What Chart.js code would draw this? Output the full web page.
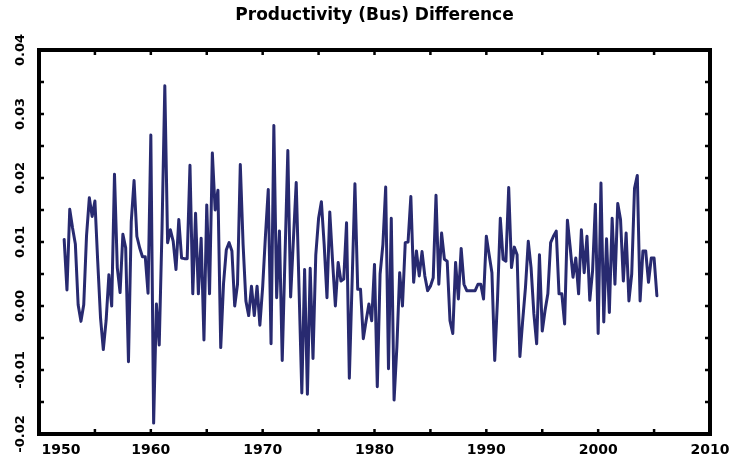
<!DOCTYPE html>
<html>
<head>
<meta charset="utf-8">
<title>Productivity (Bus) Difference</title>
<script src="https://cdn.jsdelivr.net/npm/chart.js@4.4.1/dist/chart.umd.min.js"></script>
<style>
  html, body { margin: 0; padding: 0; background: #fff; }
  #wrap { width: 734px; height: 463px; }
</style>
</head>
<body>
<div id="wrap"><canvas id="chart"></canvas></div>
<script>
const chartTitle = 'Productivity (Bus) Difference';

// quarterly series, first point is 1952 Q2
const startYear = 1952;
const startQuarter = 2;
const diffValues = [
  0.0104, 0.0025, 0.0151, 0.0122, 0.0097, 0.0002, -0.0024, 0.0002, 0.0110, 0.0169,
  0.0140, 0.0164, 0.0070, -0.0018, -0.0068, -0.0023, 0.0049, 0.0000, 0.0206, 0.0060,
  0.0021, 0.0112, 0.0091, -0.0087, 0.0132, 0.0196, 0.0109, 0.0091, 0.0077, 0.0077,
  0.0020, 0.0267, -0.0183, 0.0003, -0.0061, 0.0120, 0.0344, 0.0099, 0.0119, 0.0101,
  0.0057, 0.0135, 0.0075, 0.0074, 0.0074, 0.0220, 0.0019, 0.0145, 0.0019, 0.0106,
  -0.0053, 0.0158, 0.0019, 0.0239, 0.0150, 0.0181, -0.0065, 0.0035, 0.0088, 0.0099,
  0.0086, 0.0000, 0.0034, 0.0221, 0.0096, 0.0008, -0.0015, 0.0031, -0.0015, 0.0031,
  -0.0030, 0.0030, 0.0110, 0.0182, -0.0059, 0.0282, 0.0013, 0.0117, -0.0085, 0.0079,
  0.0243, 0.0014, 0.0104, 0.0193, 0.0029, -0.0136, 0.0057, -0.0138, 0.0059, -0.0082,
  0.0080, 0.0137, 0.0163, 0.0096, 0.0013, 0.0147, 0.0070, 0.0000, 0.0068, 0.0039,
  0.0042, 0.0130, -0.0113, 0.0039, 0.0191, 0.0026, 0.0026, -0.0051, -0.0023, 0.0003,
  -0.0023, 0.0065, -0.0126, 0.0050, 0.0096, 0.0186, -0.0098, 0.0137, -0.0147, -0.0064,
  0.0052, 0.0000, 0.0099, 0.0100, 0.0171, 0.0037, 0.0086, 0.0047, 0.0085, 0.0047,
  0.0024, 0.0031, 0.0044, 0.0173, 0.0034, 0.0114, 0.0073, 0.0070, -0.0023, -0.0043,
  0.0068, 0.0011, 0.0090, 0.0034, 0.0024, 0.0024, 0.0024, 0.0024, 0.0034, 0.0034,
  0.0011, 0.0109, 0.0080, 0.0052, -0.0085, 0.0011, 0.0137, 0.0073, 0.0070, 0.0185,
  0.0060, 0.0092, 0.0080, -0.0079, -0.0023, 0.0029, 0.0101, 0.0060, -0.0012, -0.0059,
  0.0080, -0.0039, -0.0007, 0.0019, 0.0099, 0.0109, 0.0117, 0.0019, 0.0019, -0.0028,
  0.0134, 0.0091, 0.0045, 0.0075, 0.0019, 0.0119, 0.0052, 0.0109, 0.0009, 0.0055,
  0.0159, -0.0043, 0.0192, -0.0025, 0.0105, -0.0010, 0.0137, 0.0034, 0.0160, 0.0135,
  0.0039, 0.0114, 0.0008, 0.0050, 0.0184, 0.0204, 0.0008, 0.0086, 0.0086, 0.0037,
  0.0075, 0.0075, 0.0016
];

// axis ticks (every 5 years / every 0.005), labels only on these
const xLabelYears = [1950, 1960, 1970, 1980, 1990, 2000, 2010];
const yLabelValues = [-0.02, -0.01, 0.00, 0.01, 0.02, 0.03, 0.04];

const points = diffValues.map((v, i) => ({
  x: startYear + (startQuarter - 1 + i) / 4,
  y: v
}));

// thick box round the plot with small inward ticks
const frameTicks = {
  id: 'frameTicks',
  afterDraw(chart) {
    const { ctx, chartArea: a, scales } = chart;
    ctx.save();
    ctx.strokeStyle = '#000';
    ctx.lineWidth = 2.5;
    ctx.beginPath();
    scales.x.ticks.forEach(t => {
      const px = scales.x.getPixelForValue(t.value);
      ctx.moveTo(px, a.top); ctx.lineTo(px, a.top + 5);
      ctx.moveTo(px, a.bottom); ctx.lineTo(px, a.bottom - 5);
    });
    scales.y.ticks.forEach(t => {
      const py = scales.y.getPixelForValue(t.value);
      ctx.moveTo(a.left, py); ctx.lineTo(a.left + 5, py);
      ctx.moveTo(a.right, py); ctx.lineTo(a.right - 5, py);
    });
    ctx.stroke();
    ctx.lineWidth = 4;
    ctx.strokeRect(a.left, a.top, a.right - a.left, a.bottom - a.top);
    ctx.restore();
  }
};

const ctx = document.getElementById('chart');

new Chart(ctx, {
  type: 'line',
  data: {
    datasets: [{
      label: chartTitle,
      data: points,
      borderColor: '#282a70',
      borderWidth: 3,
      borderJoinStyle: 'round',
      borderCapStyle: 'round',
      pointRadius: 0,
      tension: 0,
      fill: false
    }]
  },
  options: {
    responsive: true,
    maintainAspectRatio: false,
    animation: false,
    layout: { padding: { left: 0, right: 24, top: 0, bottom: 0 } },
    plugins: {
      legend: { display: false },
      tooltip: { enabled: false },
      title: {
        display: true,
        text: chartTitle,
        fullSize: false,
        color: '#000',
        font: { family: 'DejaVu Sans', size: 17, weight: 'bold' },
        padding: { top: 5, bottom: 24.6 }
      }
    },
    scales: {
      x: {
        type: 'linear',
        min: 1950,
        max: 2010,
        grid: { display: false, drawTicks: false },
        border: { display: false },
        ticks: {
          stepSize: 5,
          padding: 8,
          maxRotation: 0,
          autoSkip: false,
          color: '#000',
          font: { family: 'DejaVu Sans', size: 14, weight: 'bold' },
          callback: (v) => {
            if (!xLabelYears.includes(v)) return '';
            // first label sits right of the corner, clear of the y labels
            return v === 1950 ? '         1950' : String(v);
          }
        },
        afterFit: (scale) => {
          scale.height = 29;
          scale.paddingLeft = 0;
          scale.paddingRight = 0;
        }
      },
      y: {
        type: 'linear',
        min: -0.02,
        max: 0.04,
        grid: { display: false, drawTicks: false },
        border: { display: false },
        ticks: {
          stepSize: 0.005,
          padding: 0,
          minRotation: 90,
          maxRotation: 90,
          crossAlign: 'center',
          autoSkip: false,
          color: '#000',
          font: { family: 'DejaVu Sans', size: 13, weight: 'bold' },
          callback: (v) => {
            const hit = yLabelValues.find(l => Math.abs(l - v) < 1e-9);
            return hit === undefined ? '' : hit.toFixed(2);
          }
        },
        afterFit: (scale) => {
          scale.width = 39;
          scale.paddingTop = 0;
          scale.paddingBottom = 0;
        }
      }
    }
  },
  plugins: [frameTicks]
});
</script>
</body>
</html>
